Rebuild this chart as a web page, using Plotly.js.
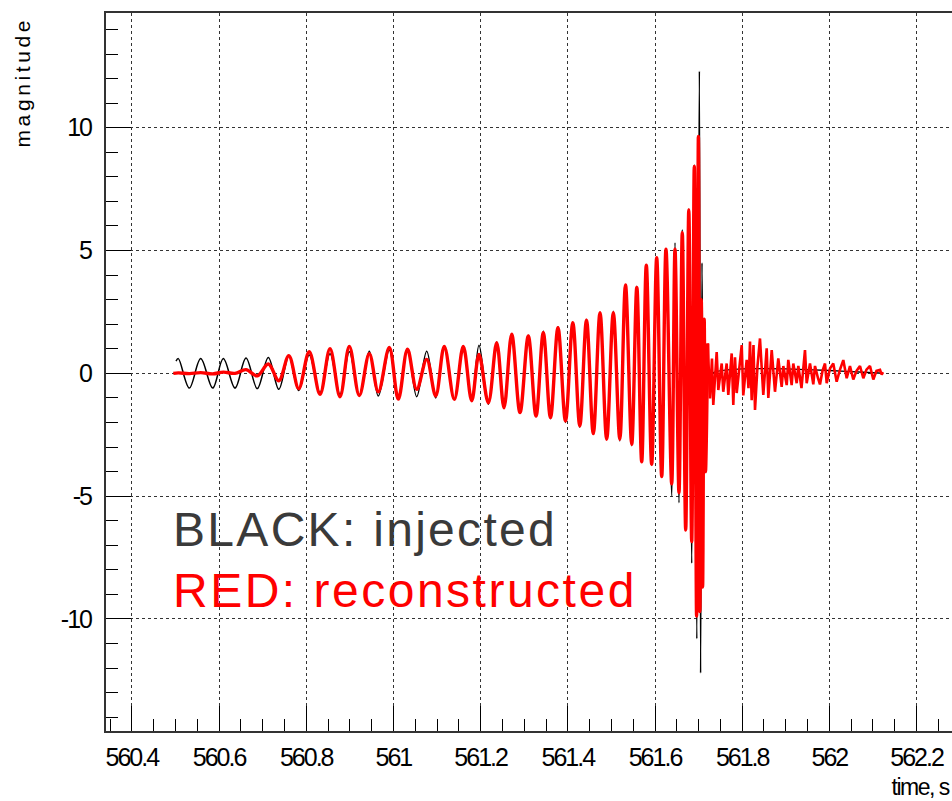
<!DOCTYPE html>
<html>
<head>
<meta charset="utf-8">
<script src="https://cdn.plot.ly/plotly-3.0.1.min.js"></script>
<style>
html, body { margin: 0; padding: 0; overflow: hidden; background: #fff; }
#chart { width: 960px; height: 801px; }
.xtick text, .ytick text { letter-spacing: -2px; }
.annotation[data-index="0"] .annotation-text { letter-spacing: 3.6px; }
.annotation[data-index="1"] .annotation-text { letter-spacing: -1.5px; }
.annotation[data-index="2"] .annotation-text { letter-spacing: 2.3px; }
.annotation[data-index="3"] .annotation-text { letter-spacing: 2.5px; }
</style>
</head>
<body>
<div id="chart"></div>
<script>
// ---- data (time in s, magnitude) ----
const injectedTime = [
560.5014,560.5067,560.5319,560.5580,560.5856,560.6099,560.6367,560.6619,560.6878,560.7131,
560.7372,560.7601,560.7828,560.8069,560.8317,560.8546,560.8775,560.8989,560.9218,560.9447,
560.9654,560.9906,561.0112,561.0323,561.0534,561.0764,561.0970,561.1167,561.1397,561.1603,
561.1796,561.1963,561.2177,561.2369,561.2537,561.2713,561.2904,561.3094,561.3271,561.3438,
561.3603,561.3775,561.3947,561.4115,561.4275,561.4429,561.4585,561.4739,561.4892,561.5044,
561.5193,561.5323,561.5466,561.5583,561.5695,561.5801,561.5924,561.6039,561.6154,561.6252,
561.6383,561.6459,561.6550,561.6626,561.6704,561.6775,561.6842,561.6901,561.6959,561.7018,
561.7046,561.7078,561.7108,561.7142,561.7177,561.7216,561.7250,561.7307,562.1229];
const injectedValue = [
0.5,0.6,-0.6,0.6,-0.6,0.6,-0.6,0.62,-0.62,0.65,
-0.65,0.7,-0.7,0.75,-0.78,0.8,-0.85,0.88,-0.88,0.9,
-0.92,0.95,-0.98,0.98,-0.95,0.9,-1.0,1.05,-1.05,1.1,
-1.1,1.14,-1.26,1.28,-1.38,1.5,-1.55,1.55,-1.7,1.72,
-1.85,1.9,-2.0,2.05,-2.2,2.2,-2.45,2.45,-2.68,2.53,
-2.75,3.3,-2.95,3.55,-3.6,4.4,-3.75,4.7,-4.24,5.05,
-5.0,5.32,-5.27,5.86,-6.4,6.7,-7.73,8.5,-10.8,12.3,
-12.2,4.5,-4.0,1.8,-1.2,0.5,-0.3,0,0];

const reconTime = [
560.4952,560.5067,560.5319,560.5580,560.5856,560.6099,560.6367,560.6619,560.6878,560.7131,
560.7372,560.7601,560.7828,560.8069,560.8317,560.8546,560.8775,560.8989,560.9218,560.9447,
560.9654,560.9906,561.0112,561.0323,561.0534,561.0764,561.0970,561.1167,561.1397,561.1603,
561.1796,561.1963,561.2177,561.2369,561.2537,561.2713,561.2904,561.3094,561.3271,561.3438,
561.3603,561.3775,561.3947,561.4115,561.4275,561.4429,561.4585,561.4739,561.4892,561.5044,
561.5193,561.5323,561.5466,561.5583,561.5695,561.5801,561.5924,561.6039,561.6154,561.6252,
561.6383,561.6459,561.6550,561.6626,561.6704,561.6775,561.6842,561.6901,561.6954,561.6995,
561.7030,561.7062,561.7092,561.7128,561.7158,561.7209];
const reconValue = [
0.0,0.02,-0.01,0.03,-0.02,0.05,0.0,0.15,-0.1,0.38,
-0.3,0.72,-0.62,0.88,-0.85,1.0,-0.95,1.1,-0.9,0.8,
-0.75,1.05,-1.05,0.98,-0.65,0.57,-0.92,1.1,-1.06,1.1,
-1.12,0.77,-1.2,1.25,-1.4,1.59,-1.6,1.52,-1.74,1.65,
-1.8,1.86,-1.94,2.06,-2.14,2.16,-2.45,2.47,-2.68,2.47,
-2.68,3.6,-2.89,3.5,-3.6,4.4,-3.7,4.71,-4.2,5.05,
-4.5,5.05,-4.86,5.73,-6.38,6.65,-6.85,8.42,-9.88,9.64,
-9.7,3.0,-8.7,2.2,-4.0,1.22];

const ringTime = [
561.7209,561.7261,561.7307,561.7337,561.7415,561.7452,561.7530,561.7566,561.7644,561.7681,
561.7759,561.7796,561.7835,561.7874,561.7989,561.8025,561.8103,561.8144,561.8179,561.8218,
561.8259,561.8294,561.8351,561.8408,561.8484,561.8562,561.8599,561.8677,561.8752,561.8828,
561.8906,561.8943,561.9021,561.9057,561.9135,561.9172,561.9250,561.9287,561.9360,561.9440,
561.9479,561.9555,561.9631,561.9670,561.9739,561.9784,561.9842,561.9899,561.9938,562.0014,
562.0089,562.0167,562.0243,562.0319,562.0397,562.0472,562.0548,562.0622,562.0702,562.0778,
562.0851,562.0931,562.1007,562.1080,562.1161,562.1200,562.1229];
const ringValue = [
1.22,-1.02,0.6,-1.29,0.87,-0.68,0.4,-0.75,0.4,-0.88,
0.81,-1.29,0.65,-0.8,1.15,-0.9,0.55,-0.6,1.29,-1.09,
1.15,-1.49,0.3,1.42,-0.88,1.02,-1.0,0.95,-0.75,0.61,
-0.55,0.3,-0.48,0.55,-0.48,0.4,-0.4,0.3,-0.6,0.95,
-0.4,0.4,-0.45,0.3,-0.2,-0.45,0.1,0.4,-0.4,0.2,
0.4,-0.34,0.15,0.54,-0.2,0.3,-0.25,0.1,0.3,-0.2,
0.15,0.3,-0.25,0.1,0.14,-0.05,0.05];

const xTickVals = [560.4,560.6,560.8,561,561.2,561.4,561.6,561.8,562,562.2];
const xTickText = ['560.4','560.6','560.8','561','561.2','561.4','561.6','561.8','562','562.2'];
const yTickVals = [-10,-5,0,5,10];
const yTickText = ['-10','-5','0','5','10'];

const tickFont = {family: '"Liberation Sans", Arial, sans-serif', size: 25, color: '#000'};

const traces = [
  {x: injectedTime, y: injectedValue, type: 'scatter', mode: 'lines',
   line: {color: '#000000', width: 1.5, shape: 'spline', smoothing: 1}, hoverinfo: 'skip'},
  {x: reconTime, y: reconValue, type: 'scatter', mode: 'lines',
   line: {color: '#ff0000', width: 3.4, shape: 'spline', smoothing: 1}, hoverinfo: 'skip'},
  {x: ringTime, y: ringValue, type: 'scatter', mode: 'lines',
   line: {color: '#ff0000', width: 2.6, shape: 'linear'}, hoverinfo: 'skip'}
];

const axisCommon = {
  showline: true, linecolor: '#333', linewidth: 2, mirror: true,
  ticks: 'inside', ticklen: 25, tickwidth: 1, tickcolor: '#000',
  showgrid: true, gridcolor: '#333', griddash: 'dot', gridwidth: 1,
  zeroline: false, tickfont: tickFont, fixedrange: true
};

const layout = {
  width: 960, height: 801,
  margin: {l: 106, r: 5, t: 13, b: 70},
  paper_bgcolor: '#fff', plot_bgcolor: '#fff',
  showlegend: false,
  xaxis: Object.assign({}, axisCommon, {
    range: [560.3408, 562.2881], tickmode: 'array', tickvals: xTickVals, ticktext: xTickText,
    ticklabelstandoff: 3,
    minor: {tickmode: 'linear', tick0: 560.4, dtick: 0.05, ticks: 'inside', ticklen: 12, tickwidth: 1, tickcolor: '#000', showgrid: false}
  }),
  yaxis: Object.assign({}, axisCommon, {
    range: [-14.56, 14.67], tickmode: 'array', tickvals: yTickVals, ticktext: yTickText,
    ticklabelstandoff: 8,
    minor: {tickmode: 'linear', tick0: 0, dtick: 1, ticks: 'inside', ticklen: 12, tickwidth: 1, tickcolor: '#000', showgrid: false}
  }),
  annotations: [
    {text: 'magnitude', xref: 'paper', yref: 'paper', x: -0.099, y: 0.997, xanchor: 'center', yanchor: 'top',
     align: 'right', textangle: -90, showarrow: false, font: {family: '"Liberation Sans", Arial, sans-serif', size: 21, color: '#000'}},
    {text: 'time, s', xref: 'paper', yref: 'paper', x: 1, y: -0.078, xanchor: 'right', yanchor: 'middle', xshift: -4,
     align: 'right', showarrow: false, font: {family: '"Liberation Sans", Arial, sans-serif', size: 23, color: '#000'}},
    {text: 'BLACK: injected', xref: 'paper', yref: 'paper', x: 0.0766, y: 0.28, xanchor: 'left', yanchor: 'middle',
     align: 'left', showarrow: false, font: {family: '"Liberation Sans", Arial, sans-serif', size: 48, color: '#3a3a3a'}},
    {text: 'RED: reconstructed', xref: 'paper', yref: 'paper', x: 0.0766, y: 0.196, xanchor: 'left', yanchor: 'middle',
     align: 'left', showarrow: false, font: {family: '"Liberation Sans", Arial, sans-serif', size: 48, color: '#ff0000'}}
  ]
};

Plotly.newPlot('chart', traces, layout, {staticPlot: true, displayModeBar: false});
</script>
</body>
</html>
